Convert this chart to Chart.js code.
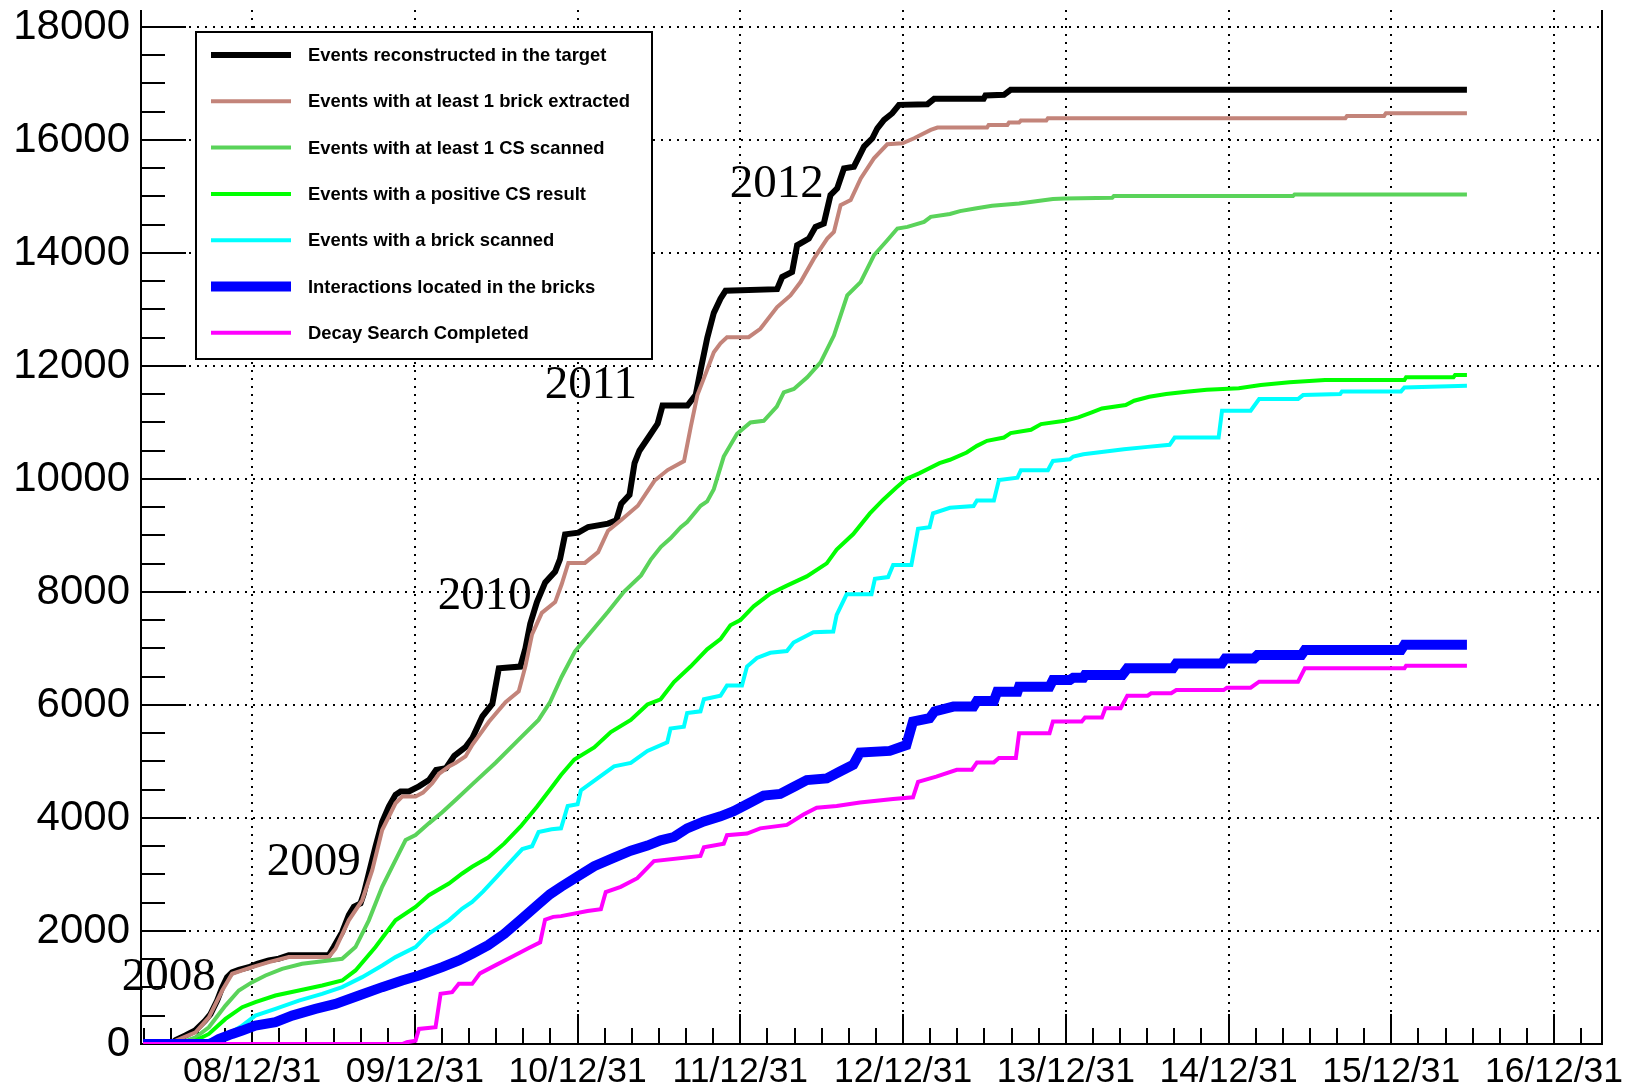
<!DOCTYPE html>
<html>
<head>
<meta charset="utf-8">
<script src="https://cdn.jsdelivr.net/npm/chart.js@4.4.1/dist/chart.umd.min.js"></script>
<style>
html,body{margin:0;padding:0;background:#ffffff;}
#wrap{width:1629px;height:1091px;position:relative;}
canvas{display:block;}
</style>
</head>
<body>
<div id="wrap"><canvas id="c" width="1629" height="1091" style="width:1629px;height:1091px"></canvas></div>
<script>
// ---------- axis ticks ----------
const xTickValues = [2009, 2010, 2011, 2012, 2013, 2014, 2015, 2016, 2017];
const xTickLabels = ['08/12/31', '09/12/31', '10/12/31', '11/12/31', '12/12/31', '13/12/31', '14/12/31', '15/12/31', '16/12/31'];
const yTickValues = [0, 2000, 4000, 6000, 8000, 10000, 12000, 14000, 16000, 18000];

// ---------- series names ----------
const seriesNames = [
  'Events reconstructed in the target',
  'Events with at least 1 brick extracted',
  'Events with at least 1 CS scanned',
  'Events with a positive CS result',
  'Events with a brick scanned',
  'Interactions located in the bricks',
  'Decay Search Completed'
];

// ---------- series values: [decimal year, count] ----------
const reconstructed = [[2008.33,0],[2008.50,0],[2008.53,70],[2008.59,150],[2008.65,240],[2008.71,410],[2008.744,530],[2008.785,770],[2008.816,1000],[2008.846,1180],[2008.877,1270],[2008.918,1310],[2008.98,1360],[2009.031,1420],[2009.102,1480],[2009.164,1510],[2009.225,1570],[2009.471,1570],[2009.502,1720],[2009.553,1980],[2009.594,2280],[2009.625,2430],[2009.666,2490],[2009.686,2660],[2009.717,3020],[2009.758,3490],[2009.799,3930],[2009.84,4200],[2009.881,4410],[2009.912,4470],[2009.963,4470],[2010.025,4560],[2010.086,4670],[2010.13,4850],[2010.191,4880],[2010.242,5100],[2010.313,5260],[2010.354,5420],[2010.415,5800],[2010.476,6020],[2010.516,6650],[2010.648,6680],[2010.679,7000],[2010.709,7440],[2010.75,7820],[2010.801,8170],[2010.862,8360],[2010.892,8580],[2010.923,9020],[2011.004,9050],[2011.065,9150],[2011.187,9210],[2011.238,9270],[2011.268,9560],[2011.319,9720],[2011.35,10280],[2011.38,10500],[2011.441,10760],[2011.492,10980],[2011.522,11300],[2011.675,11300],[2011.726,11490],[2011.756,11930],[2011.797,12500],[2011.837,12940],[2011.878,13190],[2011.909,13330],[2012.226,13360],[2012.257,13574],[2012.318,13663],[2012.349,14136],[2012.421,14254],[2012.462,14462],[2012.513,14521],[2012.554,15024],[2012.595,15142],[2012.637,15497],[2012.698,15527],[2012.76,15882],[2012.811,16030],[2012.842,16207],[2012.883,16355],[2012.934,16473],[2012.975,16621],[2013.15,16633],[2013.191,16728],[2013.495,16728],[2013.506,16787],[2013.62,16799],[2013.661,16888],[2016.465,16888]];

const brickExtracted = [[2008.33,0],[2008.50,0],[2008.529,59],[2008.652,207],[2008.734,473],[2008.816,947],[2008.877,1243],[2008.939,1302],[2009.0,1361],[2009.102,1450],[2009.225,1538],[2009.471,1538],[2009.512,1686],[2009.594,2189],[2009.676,2544],[2009.738,3077],[2009.799,3787],[2009.881,4260],[2009.922,4379],[2010.004,4379],[2010.05,4450],[2010.107,4615],[2010.15,4787],[2010.209,4911],[2010.252,4977],[2010.311,5089],[2010.354,5300],[2010.455,5703],[2010.557,6051],[2010.638,6240],[2010.679,6683],[2010.72,7251],[2010.78,7630],[2010.862,7820],[2010.902,8136],[2010.943,8515],[2011.045,8515],[2011.126,8705],[2011.187,9084],[2011.268,9273],[2011.37,9526],[2011.472,9968],[2011.553,10158],[2011.654,10316],[2011.695,10916],[2011.736,11485],[2011.787,11864],[2011.837,12243],[2011.878,12401],[2011.918,12509],[2012.051,12509],[2012.123,12657],[2012.226,13042],[2012.308,13249],[2012.37,13485],[2012.452,13899],[2012.534,14254],[2012.575,14373],[2012.616,14846],[2012.678,14935],[2012.74,15320],[2012.821,15675],[2012.903,15923],[2012.996,15941],[2013.068,16030],[2013.17,16178],[2013.211,16219],[2013.516,16219],[2013.526,16266],[2013.641,16266],[2013.651,16308],[2013.713,16308],[2013.724,16343],[2013.88,16343],[2013.89,16385],[2015.718,16385],[2015.728,16426],[2015.956,16426],[2015.967,16473],[2016.465,16473]];

const csScanned = [[2008.33,0],[2008.52,0],[2008.57,30],[2008.652,118],[2008.734,296],[2008.836,680],[2008.918,947],[2009.0,1095],[2009.082,1213],[2009.184,1331],[2009.307,1420],[2009.471,1479],[2009.553,1509],[2009.635,1716],[2009.717,2189],[2009.799,2781],[2009.881,3254],[2009.943,3609],[2010.004,3698],[2010.086,3905],[2010.168,4100],[2010.25,4319],[2010.354,4600],[2010.496,4977],[2010.638,5387],[2010.76,5735],[2010.831,6051],[2010.902,6500],[2010.984,6950],[2011.085,7300],[2011.187,7650],[2011.286,8008],[2011.39,8294],[2011.451,8578],[2011.512,8799],[2011.571,8950],[2011.634,9147],[2011.673,9239],[2011.756,9526],[2011.796,9604],[2011.837,9820],[2011.898,10396],[2011.98,10800],[2012.062,11000],[2012.144,11030],[2012.224,11279],[2012.267,11533],[2012.329,11592],[2012.411,11799],[2012.493,12065],[2012.575,12538],[2012.657,13249],[2012.739,13485],[2012.821,13959],[2012.903,14225],[2012.965,14432],[2013.027,14462],[2013.129,14550],[2013.17,14639],[2013.288,14690],[2013.35,14740],[2013.443,14787],[2013.547,14834],[2013.713,14876],[2013.817,14917],[2013.921,14953],[2013.994,14965],[2014.285,14976],[2014.295,15006],[2015.396,15006],[2015.406,15036],[2016.465,15036]];

const csPositive = [[2008.33,0],[2008.58,0],[2008.631,30],[2008.734,178],[2008.836,444],[2008.939,651],[2009.02,740],[2009.143,858],[2009.287,947],[2009.43,1035],[2009.553,1124],[2009.635,1302],[2009.758,1716],[2009.881,2189],[2010.004,2426],[2010.086,2633],[2010.209,2840],[2010.291,3018],[2010.352,3136],[2010.45,3300],[2010.55,3550],[2010.65,3850],[2010.75,4200],[2010.83,4500],[2010.898,4761],[2010.98,5035],[2011.102,5248],[2011.204,5522],[2011.327,5736],[2011.429,6010],[2011.51,6101],[2011.592,6406],[2011.694,6680],[2011.796,6985],[2011.878,7167],[2011.939,7411],[2012.0,7502],[2012.082,7746],[2012.184,7971],[2012.286,8112],[2012.408,8276],[2012.531,8507],[2012.592,8751],[2012.694,9025],[2012.796,9391],[2012.878,9634],[2012.959,9848],[2013.02,10000],[2013.102,10104],[2013.224,10280],[2013.288,10340],[2013.391,10468],[2013.454,10586],[2013.516,10675],[2013.62,10734],[2013.661,10811],[2013.786,10870],[2013.848,10971],[2013.994,11030],[2014.077,11089],[2014.16,11178],[2014.222,11249],[2014.368,11308],[2014.42,11385],[2014.513,11456],[2014.617,11503],[2014.741,11544],[2014.866,11580],[2015.063,11604],[2015.198,11663],[2015.375,11710],[2015.593,11752],[2016.081,11752],[2016.091,11799],[2016.382,11799],[2016.392,11840],[2016.465,11840]];

const brickScanned = [[2008.33,0],[2008.70,0],[2008.734,59],[2008.836,148],[2008.939,325],[2009.02,503],[2009.143,621],[2009.287,769],[2009.43,888],[2009.553,1006],[2009.676,1183],[2009.799,1390],[2009.881,1538],[2010.004,1716],[2010.086,1953],[2010.209,2189],[2010.291,2396],[2010.352,2515],[2010.42,2700],[2010.5,2950],[2010.58,3200],[2010.66,3450],[2010.72,3500],[2010.76,3750],[2010.84,3800],[2010.898,3817],[2010.939,4213],[2011.0,4243],[2011.02,4487],[2011.122,4700],[2011.224,4913],[2011.327,4974],[2011.429,5187],[2011.551,5340],[2011.571,5583],[2011.653,5614],[2011.673,5858],[2011.755,5888],[2011.776,6101],[2011.878,6162],[2011.918,6345],[2012.01,6345],[2012.041,6680],[2012.102,6832],[2012.184,6924],[2012.286,6954],[2012.327,7106],[2012.449,7289],[2012.571,7301],[2012.592,7594],[2012.653,7959],[2012.806,7959],[2012.827,8233],[2012.908,8264],[2012.939,8477],[2013.051,8477],[2013.092,9117],[2013.163,9147],[2013.184,9391],[2013.288,9491],[2013.433,9521],[2013.454,9621],[2013.558,9621],[2013.589,9982],[2013.703,10024],[2013.724,10154],[2013.89,10154],[2013.921,10320],[2014.025,10349],[2014.046,10397],[2014.108,10438],[2014.233,10480],[2014.357,10527],[2014.503,10568],[2014.638,10604],[2014.669,10734],[2014.939,10734],[2014.96,11207],[2015.136,11207],[2015.188,11414],[2015.427,11414],[2015.458,11485],[2015.686,11503],[2015.697,11550],[2016.06,11550],[2016.081,11621],[2016.465,11651]];

const located = [[2008.33,0],[2008.74,0],[2008.795,89],[2008.877,178],[2008.939,237],[2009.02,325],[2009.143,385],[2009.246,503],[2009.389,621],[2009.512,710],[2009.656,858],[2009.799,1006],[2009.922,1124],[2010.025,1213],[2010.168,1361],[2010.27,1479],[2010.352,1598],[2010.45,1750],[2010.55,1950],[2010.65,2200],[2010.75,2450],[2010.83,2650],[2010.898,2781],[2011.0,2964],[2011.102,3147],[2011.224,3299],[2011.327,3421],[2011.429,3512],[2011.51,3604],[2011.592,3664],[2011.673,3817],[2011.776,3939],[2011.878,4030],[2011.959,4121],[2012.041,4243],[2012.143,4396],[2012.245,4426],[2012.327,4548],[2012.408,4670],[2012.531,4700],[2012.612,4822],[2012.694,4944],[2012.735,5157],[2012.918,5187],[2013.02,5291],[2013.061,5706],[2013.163,5766],[2013.194,5888],[2013.309,5971],[2013.433,5971],[2013.454,6071],[2013.558,6071],[2013.579,6236],[2013.703,6236],[2013.713,6324],[2013.9,6324],[2013.921,6442],[2014.025,6442],[2014.046,6483],[2014.108,6483],[2014.118,6530],[2014.347,6530],[2014.378,6648],[2014.658,6648],[2014.679,6736],[2014.959,6736],[2014.98,6824],[2015.157,6824],[2015.178,6883],[2015.448,6883],[2015.469,6971],[2016.06,6971],[2016.081,7065],[2016.465,7065]];

const decaySearch = [[2008.33,0],[2009.922,0],[2009.95,30],[2010.004,59],[2010.025,266],[2010.127,296],[2010.158,888],[2010.229,917],[2010.27,1065],[2010.352,1065],[2010.40,1250],[2010.5,1400],[2010.6,1550],[2010.7,1700],[2010.77,1800],[2010.80,2200],[2010.85,2250],[2010.898,2263],[2011.061,2355],[2011.143,2385],[2011.173,2690],[2011.265,2781],[2011.367,2934],[2011.439,3147],[2011.469,3238],[2011.755,3329],[2011.776,3482],[2011.898,3543],[2011.918,3695],[2012.041,3725],[2012.122,3817],[2012.286,3878],[2012.388,4061],[2012.469,4182],[2012.592,4213],[2012.735,4274],[2012.939,4335],[2013.061,4365],[2013.092,4639],[2013.204,4731],[2013.33,4854],[2013.423,4854],[2013.454,4984],[2013.558,4984],[2013.589,5060],[2013.693,5060],[2013.713,5501],[2013.9,5501],[2013.921,5707],[2014.098,5707],[2014.118,5777],[2014.222,5777],[2014.243,5942],[2014.337,5942],[2014.378,6165],[2014.503,6165],[2014.524,6207],[2014.648,6207],[2014.679,6265],[2014.97,6265],[2014.99,6307],[2015.136,6307],[2015.188,6412],[2015.427,6412],[2015.469,6648],[2016.081,6648],[2016.091,6695],[2016.465,6695]];

// ---------- year annotations (data coordinates: left edge, baseline) ----------
const yearLabels = ['2008', '2009', '2010', '2011', '2012'];
const yearLabelX = [2008.198, 2009.089, 2010.140, 2010.798, 2011.935];
const yearLabelY = [956, 2993, 7704, 11441, 14983];

// ---------- styles ----------
const seriesColors = ['#000000', '#c3847a', '#5ad35a', '#00ff00', '#00ffff', '#0000ff', '#ff00ff'];
const seriesWidths = [6, 4, 4, 4, 4, 10, 4];
const seriesData = [reconstructed, brickExtracted, csScanned, csPositive, brickScanned, located, decaySearch];

const SANS = "'Liberation Sans', Arial, Helvetica, sans-serif";
const SERIF = "'Liberation Serif', 'Times New Roman', serif";

const rootAxesPlugin = {
  id: 'rootAxes',
  beforeDatasetsDraw(chart) {
    const ctx = chart.ctx;
    const a = chart.chartArea;
    const xs = chart.scales.x, ys = chart.scales.y;
    ctx.save();
    ctx.strokeStyle = '#000';
    ctx.lineWidth = 2;
    ctx.setLineDash([]);
    // y ticks (inside frame)
    for (let v = 0; v <= ys.max; v += 500) {
      const y = Math.round(ys.getPixelForValue(v));
      const len = (v % 2000 === 0) ? 45 : 24;
      ctx.beginPath(); ctx.moveTo(a.left, y); ctx.lineTo(a.left + len, y); ctx.stroke();
    }
    // x ticks (inside frame), 6 subdivisions per year
    const start = Math.ceil(xs.min * 6 - 1e-6);
    const end = Math.floor(xs.max * 6 + 1e-6);
    for (let k = start; k <= end; k++) {
      const v = k / 6;
      const x = Math.round(xs.getPixelForValue(v));
      const major = (k % 6 === 0);
      const len = major ? 30 : 16;
      ctx.beginPath(); ctx.moveTo(x, a.bottom); ctx.lineTo(x, a.bottom - len); ctx.stroke();
    }
    // frame: left, bottom, right
    ctx.beginPath();
    ctx.moveTo(a.left, a.top); ctx.lineTo(a.left, a.bottom); ctx.lineTo(a.right, a.bottom); ctx.lineTo(a.right, a.top);
    ctx.stroke();
    ctx.restore();
  },
  afterDatasetsDraw(chart) {
    const ctx = chart.ctx;
    const xs = chart.scales.x, ys = chart.scales.y;
    ctx.save();
    // year annotations
    ctx.fillStyle = '#000';
    ctx.font = '47px ' + SERIF;
    ctx.textAlign = 'left';
    ctx.textBaseline = 'alphabetic';
    yearLabels.forEach((t, i) => {
      ctx.fillText(t, xs.getPixelForValue(yearLabelX[i]), ys.getPixelForValue(yearLabelY[i]));
    });
    // legend box
    const box = {left: 196, top: 32, right: 652, bottom: 359};
    ctx.fillStyle = '#fff';
    ctx.fillRect(box.left, box.top, box.right - box.left, box.bottom - box.top);
    ctx.strokeStyle = '#000';
    ctx.lineWidth = 2;
    ctx.strokeRect(box.left, box.top, box.right - box.left, box.bottom - box.top);
    ctx.font = 'bold 18.4px ' + SANS;
    ctx.textBaseline = 'middle';
    chart.data.datasets.forEach((ds, i) => {
      const y = box.top + 23 + i * 46.3;
      ctx.strokeStyle = ds.borderColor;
      ctx.lineWidth = ds.borderWidth;
      ctx.lineCap = 'butt';
      ctx.beginPath(); ctx.moveTo(211, y); ctx.lineTo(291, y); ctx.stroke();
      ctx.fillStyle = '#000';
      ctx.fillText(ds.label, 308, y + 1);
    });
    ctx.restore();
  }
};

const datasets = seriesData.map((d, i) => ({
  label: seriesNames[i],
  data: d.map(p => ({x: p[0], y: p[1]})),
  borderColor: seriesColors[i],
  backgroundColor: seriesColors[i],
  borderWidth: seriesWidths[i],
  pointRadius: 0,
  fill: false,
  tension: 0,
  borderJoinStyle: 'miter',
  borderCapStyle: 'butt',
  order: seriesData.length - i
}));

new Chart(document.getElementById('c'), {
  type: 'line',
  data: {datasets},
  options: {
    responsive: false,
    animation: false,
    devicePixelRatio: 1,
    layout: {padding: {top: 10, right: 27, left: 0, bottom: 0}},
    plugins: {legend: {display: false}, tooltip: {enabled: false}},
    scales: {
      x: {
        type: 'linear',
        min: 2008.317,
        max: 2017.295,
        afterBuildTicks: s => { s.ticks = xTickValues.map(v => ({value: v})); },
        afterFit: s => { s.height = 47; s.paddingLeft = 0; s.paddingRight = 0; },
        grid: {display: true, color: '#000', lineWidth: 2, drawTicks: false},
        border: {display: false, dash: [2, 6]},
        ticks: {
          autoSkip: false, maxRotation: 0, minRotation: 0, padding: 7,
          color: '#000', font: {family: SANS, size: 35.5},
          callback: v => xTickLabels[xTickValues.indexOf(v)]
        }
      },
      y: {
        type: 'linear',
        min: 0,
        max: 18300,
        afterBuildTicks: s => { s.ticks = yTickValues.map(v => ({value: v})); },
        afterFit: s => { s.width = 141; s.paddingTop = 0; s.paddingBottom = 0; },
        grid: {display: true, color: '#000', lineWidth: 2, drawTicks: false},
        border: {display: false, dash: [2, 6]},
        ticks: {
          padding: 11, color: '#000', font: {family: SANS, size: 42},
          callback: v => String(v)
        }
      }
    }
  },
  plugins: [rootAxesPlugin]
});
</script>
</body>
</html>
